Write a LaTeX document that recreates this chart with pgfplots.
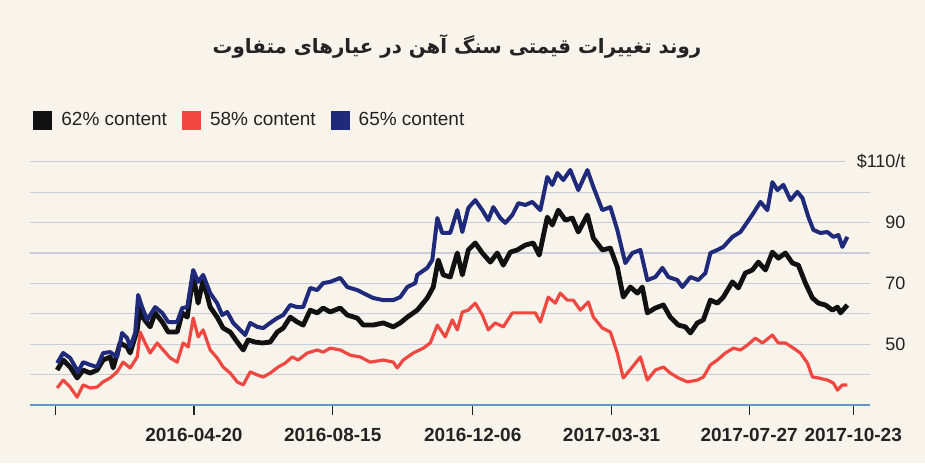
\documentclass[border=0pt]{standalone}
\usepackage{fontspec}
\setmainfont{Liberation Sans}
\newfontfamily\arabicfont[Script=Arabic]{DejaVu Sans}
\TeXXeTstate=1
\usepackage{pgfplots}
\pgfplotsset{compat=1.18}
\definecolor{bg}{RGB}{248,244,236}
\definecolor{gridc}{RGB}{200,205,218}
\definecolor{c62}{RGB}{17,17,17}
\definecolor{c58}{RGB}{240,72,64}
\definecolor{c65}{RGB}{32,42,122}
\definecolor{axisblue}{RGB}{100,150,200}
\definecolor{txt}{RGB}{35,35,35}
\begin{document}
\begin{tikzpicture}
\fill[bg] (0,0) rectangle (462.5pt,231.5pt);
\node[font=\arabicfont\bfseries\fontsize{9.9}{12}\selectfont, text=txt] at (228.5pt,208.5pt) {\beginR روند تغییرات قیمتی سنگ آهن در عیارهای متفاوت\endR};
\begin{axis}[
  at={(15pt,29pt)}, anchor=south west, scale only axis,
  width=420pt, height=124.65pt,
  xmin=-21, xmax=681, ymin=30, ymax=112,
  clip=false,
  axis line style={draw=none},
  xtick={0,116,232,349,465,580,667},
  xticklabels={,2016-04-20,2016-08-15,2016-12-06,2017-03-31,2017-07-27,2017-10-23},
  xtick pos=bottom, xtick align=outside, major tick length=5pt,
  xtick style={draw=txt, line width=0.6pt},
  xticklabel style={font=\bfseries\fontsize{9.5}{11}\selectfont, text=txt, yshift=-3pt},
  ytick={50,70,90,110}, yticklabels={50,70,90,\$110/t},
  ytick pos=right, yticklabel pos=right, ytick style={draw=none},
  yticklabel style={font=\fontsize{9}{11}\selectfont, text=txt, text width=26pt, align=right, anchor=west, xshift=-11.8pt},
  legend style={at={(0.0036,1.143)}, anchor=west, draw=none, fill=none, inner sep=0pt,
    font=\fontsize{9.5}{11}\selectfont, text=txt, legend columns=-1,
    /tikz/every odd column/.append style={column sep=2.5pt},
    /tikz/every even column/.append style={column sep=5.5pt}},
  legend cell align=left,
  legend image code/.code={\fill[#1, draw=none] (0pt,-4.75pt) rectangle (9.5pt,4.75pt);},
]
\draw[gridc, line width=0.6pt] (axis cs:-21,40) -- (axis cs:681,40);
\draw[gridc, line width=0.6pt] (axis cs:-21,50) -- (axis cs:681,50);
\draw[gridc, line width=0.6pt] (axis cs:-21,60) -- (axis cs:681,60);
\draw[gridc, line width=0.6pt] (axis cs:-21,70) -- (axis cs:681,70);
\draw[gridc, line width=0.6pt] (axis cs:-21,80) -- (axis cs:681,80);
\draw[gridc, line width=0.6pt] (axis cs:-21,90) -- (axis cs:681,90);
\draw[gridc, line width=0.6pt] (axis cs:-21,100) -- (axis cs:681,100);
\draw[gridc, line width=0.6pt] (axis cs:-21,110) -- (axis cs:660,110);
\draw[axisblue, line width=1.3pt] (axis cs:-21,30) -- (axis cs:681,30);

\addplot[c62, line width=2.4pt, line join=round] coordinates {
(1.7,41.5)(6.7,44.8)(12.5,42.5)(18.4,38.9)(23.4,41.5)(29.3,40.5)(35.1,41.5)(40.1,44.8)(46.0,45.8)(48.5,42.2)(54.3,50.4)(60.2,49.1)(62.7,47.1)(68.6,54.7)(71.1,62.9)(73.6,58.6)(79.4,55.7)(83.6,60.3)(89.5,57.3)(94.5,54.0)(102.0,54.0)(106.2,60.3)(110.4,58.9)(115.4,72.8)(119.5,63.5)(123.7,71.1)(129.6,62.2)(135.4,58.9)(140.4,55.3)(146.3,54.0)(152.2,50.7)(157.2,48.1)(161.3,51.4)(167.2,50.7)(173.1,50.4)(179.7,50.7)(185.6,54.0)(190.6,55.3)(196.5,58.9)(202.3,57.3)(207.3,56.3)(213.2,61.2)(219.0,60.3)(224.0,61.9)(229.9,60.6)(238.3,61.9)(244.1,59.6)(252.5,58.6)(257.5,56.3)(265.8,56.3)(274.2,57.0)(282.6,55.7)(288.4,57.0)(294.3,58.9)(302.6,61.2)(311.0,65.2)(316.0,68.8)(320.2,77.7)(324.4,72.8)(330.2,72.1)(336.1,80.0)(340.3,72.8)(345.3,81.0)(351.1,83.3)(357.0,80.0)(363.7,77.0)(369.5,80.0)(374.5,76.0)(380.4,80.3)(386.2,81.0)(392.9,82.6)(399.6,83.3)(404.6,79.3)(411.3,91.8)(415.5,89.2)(420.5,94.1)(426.4,90.8)(432.2,91.5)(437.2,86.9)(444.8,92.5)(449.8,84.9)(457.3,81.0)(464.0,81.6)(469.8,75.4)(474.8,65.5)(480.7,68.8)(486.6,66.8)(490.7,68.8)(494.9,60.3)(501.6,61.9)(508.3,62.9)(514.1,58.9)(520.8,56.3)(526.7,55.7)(530.9,53.7)(536.7,57.0)(541.7,58.0)(547.6,64.5)(553.4,63.5)(558.4,65.5)(566.0,70.5)(571.0,68.5)(576.8,73.4)(582.7,74.4)(587.7,77.0)(593.6,74.4)(599.4,80.3)(604.4,78.3)(610.3,80.0)(616.1,76.7)(621.1,76.0)(627.0,70.1)(632.9,65.2)(637.9,63.5)(643.7,62.9)(649.6,61.2)(653.8,62.2)(656.3,60.3)(662.1,62.9)
};
\addlegendentry{62\% content}
\addplot[c58, line width=1.6pt, line join=round] coordinates {
(1.7,35.6)(6.7,38.2)(12.5,35.9)(18.4,32.6)(23.4,36.6)(29.3,35.6)(35.1,35.9)(40.1,37.6)(46.0,38.9)(51.8,40.9)(56.8,44.1)(62.7,42.2)(68.6,45.8)(71.1,54.0)(75.2,50.4)(79.4,47.1)(85.3,50.4)(90.3,48.1)(96.1,45.5)(102.0,44.1)(107.0,50.4)(111.2,49.1)(115.4,58.6)(119.5,52.4)(123.7,54.7)(129.6,48.1)(135.4,45.5)(140.4,42.5)(146.3,40.5)(152.2,37.6)(157.2,36.6)(163.0,40.9)(168.9,39.9)(173.9,39.2)(179.7,40.5)(186.4,42.5)(192.3,43.8)(198.1,45.8)(203.1,44.8)(210.7,47.1)(219.0,48.1)(224.0,47.4)(229.9,48.7)(238.3,48.1)(246.6,46.4)(255.0,45.8)(263.3,44.1)(274.2,44.8)(282.6,44.1)(285.9,42.2)(290.9,44.8)(299.3,47.1)(307.6,48.7)(313.5,50.4)(319.4,56.3)(326.0,52.4)(331.9,58.0)(336.1,54.7)(340.3,60.6)(345.3,61.2)(351.1,63.5)(357.0,59.6)(362.0,54.7)(367.8,57.0)(374.5,55.7)(382.1,60.3)(388.7,60.3)(394.6,60.3)(401.3,60.3)(405.5,57.3)(412.1,65.5)(418.0,63.5)(422.2,66.8)(428.0,64.5)(433.0,64.5)(438.9,61.2)(445.6,63.9)(449.8,58.9)(457.3,55.3)(464.0,54.0)(469.8,47.1)(474.8,38.9)(482.4,42.5)(489.1,45.8)(494.9,38.2)(501.6,41.5)(508.3,42.5)(514.1,40.5)(520.8,38.9)(528.4,37.6)(536.7,38.2)(541.7,39.2)(547.6,43.2)(553.4,44.8)(560.1,47.1)(566.8,48.7)(572.7,48.1)(578.5,49.7)(585.2,52.0)(591.1,50.4)(599.4,53.0)(604.4,50.4)(610.3,50.4)(617.0,48.7)(622.8,47.1)(628.7,43.8)(632.9,39.2)(637.9,38.9)(645.4,38.2)(650.4,37.2)(653.8,34.9)(657.9,36.6)(662.1,36.6)
};
\addlegendentry{58\% content}
\addplot[c65, line width=2pt, line join=round] coordinates {
(1.7,43.8)(6.7,47.1)(12.5,45.5)(19.2,40.9)(23.4,44.1)(29.3,43.2)(35.1,42.5)(40.1,47.1)(46.0,47.4)(51.8,45.8)(56.0,53.7)(60.2,52.0)(62.7,49.1)(66.9,53.7)(69.4,66.2)(72.7,62.2)(76.9,58.0)(83.6,62.2)(89.5,60.3)(94.5,57.3)(102.0,57.3)(106.2,61.9)(110.4,62.2)(115.4,74.4)(119.5,70.5)(123.7,72.8)(129.6,66.8)(135.4,63.5)(139.6,59.6)(143.8,60.6)(148.8,57.0)(154.7,54.7)(158.8,53.0)(163.0,57.0)(168.9,55.7)(173.9,55.3)(179.7,57.0)(185.6,58.6)(190.6,59.6)(196.5,62.9)(202.3,62.2)(207.3,62.2)(213.2,68.5)(219.0,67.8)(224.0,70.1)(229.9,70.5)(238.3,71.8)(244.1,68.8)(252.5,67.8)(257.5,66.8)(265.8,65.2)(274.2,64.5)(282.6,64.5)(288.4,65.5)(294.3,68.8)(301.0,70.1)(302.6,72.8)(311.0,75.1)(315.2,77.7)(319.4,91.5)(323.5,86.6)(330.2,86.6)(336.1,94.1)(340.3,86.9)(345.3,94.8)(351.1,97.4)(357.0,94.1)(362.0,90.8)(366.2,95.1)(372.0,91.5)(376.2,89.9)(382.1,92.5)(387.1,96.4)(392.9,95.8)(398.8,96.8)(405.5,94.1)(411.3,105.0)(415.5,102.4)(419.7,106.3)(424.7,104.0)(430.5,107.3)(437.2,100.7)(444.8,107.3)(449.8,101.7)(457.3,94.1)(464.0,95.1)(469.8,87.6)(476.5,76.7)(482.4,80.0)(489.1,81.0)(494.9,71.1)(501.6,72.1)(507.5,75.1)(512.5,72.1)(520.0,71.1)(524.2,68.8)(530.9,72.1)(537.5,71.1)(543.4,73.4)(547.6,80.0)(553.4,81.0)(558.4,82.0)(566.0,85.3)(572.7,86.9)(578.5,90.2)(583.5,93.1)(589.4,96.8)(595.2,94.1)(599.4,103.3)(603.6,100.7)(608.6,102.4)(614.5,97.4)(620.3,100.1)(624.5,98.1)(629.5,91.8)(633.7,87.6)(639.5,86.6)(645.4,86.9)(650.4,85.3)(654.6,85.9)(657.9,82.0)(662.1,85.3)
};
\addlegendentry{65\% content}
\end{axis}
\end{tikzpicture}
\end{document}
